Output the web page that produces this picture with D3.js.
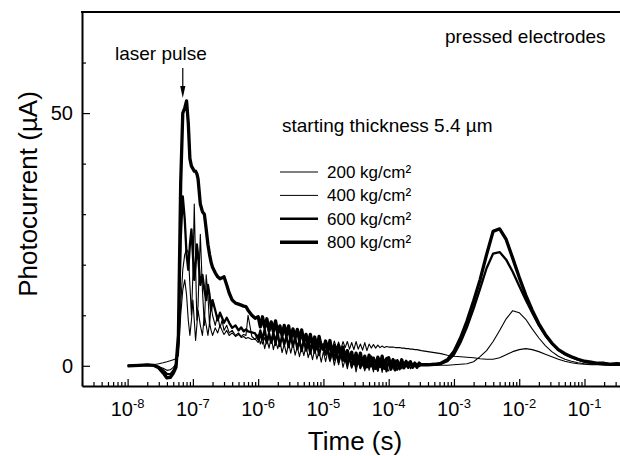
<!DOCTYPE html>
<html>
<head>
<meta charset="utf-8">
<script src="https://cdn.jsdelivr.net/npm/d3@7"></script>
<style>
  body { margin: 0; background: #fff; }
  svg text { font-family: "Liberation Sans", Arial, sans-serif; fill: #000; }
</style>
</head>
<body>
<svg id="chart" width="620" height="456"></svg>
<script>

// time grid in seconds, shared by the four traces (denser where the traces are noisy)
var time_s = [
  1e-8, 1.5e-8, 2e-8, 2.5e-8, 3e-8, 3.5e-8, 4e-8, 4.5e-8, 5e-8, 5.5e-8,
  6e-8, 6.5e-8, 7e-8, 7.5e-8, 8e-8, 8.5e-8, 9e-8, 9.5e-8,
  1e-7, 1.05e-7, 1.1e-7, 1.15e-7, 1.2e-7, 1.3e-7, 1.4e-7, 1.5e-7, 1.6e-7, 1.7e-7,
  1.8e-7, 1.9e-7, 2e-7, 2.2e-7, 2.4e-7, 2.6e-7, 2.8e-7, 3e-7, 3.3e-7, 3.6e-7,
  4e-7, 4.5e-7, 5e-7, 5.5e-7, 6e-7, 6.5e-7, 7e-7, 8e-7, 9e-7,
  1e-6, 1.08e-6, 1.166e-6, 1.259e-6, 1.359e-6, 1.468e-6, 1.585e-6, 1.711e-6, 1.848e-6, 1.995e-6,
  2.154e-6, 2.326e-6, 2.512e-6, 2.712e-6, 2.929e-6, 3.162e-6, 3.415e-6, 3.687e-6, 3.981e-6, 4.299e-6,
  4.642e-6, 5.012e-6, 5.412e-6, 5.843e-6, 6.31e-6, 6.813e-6, 7.356e-6, 7.943e-6, 8.577e-6, 9.261e-6,
  1e-5, 1.08e-5, 1.166e-5, 1.259e-5, 1.359e-5, 1.468e-5, 1.585e-5, 1.711e-5, 1.848e-5, 1.995e-5,
  2.154e-5, 2.326e-5, 2.512e-5, 2.712e-5, 2.929e-5, 3.162e-5, 3.415e-5, 3.687e-5, 3.981e-5, 4.299e-5,
  4.642e-5, 5.012e-5, 5.412e-5, 5.843e-5, 6.31e-5, 6.813e-5, 7.356e-5, 7.943e-5, 8.577e-5, 9.261e-5,
  1e-4, 1.08e-4, 1.166e-4, 1.259e-4, 1.359e-4, 1.468e-4, 1.585e-4, 1.711e-4, 1.848e-4, 1.995e-4,
  2.154e-4, 2.326e-4, 2.512e-4, 2.712e-4, 2.929e-4,
  3.162e-4, 3.981e-4, 5.012e-4, 6.31e-4, 7.943e-4,
  1e-3, 1.26e-3, 1.58e-3, 2e-3, 2.51e-3, 3.16e-3, 3.98e-3, 5.01e-3, 6.31e-3, 7.94e-3,
  1e-2, 1.26e-2, 1.58e-2, 2e-2, 2.51e-2, 3.16e-2, 3.98e-2, 5.01e-2, 6.31e-2, 7.94e-2,
  0.1, 0.126, 0.158, 0.2, 0.251, 0.316, 0.398
]

// photocurrent (uA) per pressing pressure
var current_200 = [
  0, 0.1, 0.1, 0.2, 0.4, 0.6, 0.8, 1.0, 1.2, 1.4,
  2, 10, 15, 17, 14, 9, 6, 9,
  13, 9, 5, 8, 11, 8, 6, 10, 8, 6,
  8.5, 7, 6, 7.5, 6.5, 8, 7, 6.2, 7, 6,
  6.5, 5.8, 6.2, 5.6, 5.8, 5.4, 5.6, 5.2, 5.3,
  4.6, 5.9, 4.3, 5.6, 4.3, 5.8, 4.4, 5.6, 4.0, 5.7,
  4.5, 5.6, 4.1, 5.4, 3.9, 5.6, 4.1, 5.0, 3.8, 5.3,
  3.6, 5.1, 4.0, 5.2, 3.7, 5.2, 3.7, 5.2, 3.5, 4.7,
  3.6, 4.9, 3.4, 4.7, 3.3, 4.9, 3.5, 4.7, 3.2, 4.8,
  3.6, 4.8, 3.3, 4.6, 3.2, 4.8, 3.3, 4.3, 3.1, 4.6,
  3.0, 4.3, 3.5, 4.2, 3.5, 4.1, 3.6, 3.9, 3.6, 3.8,
  3.7, 3.7, 3.7, 3.6, 3.6, 3.6, 3.5, 3.5, 3.4, 3.4,
  3.3, 3.3, 3.2, 3.2, 3.1,
  3.0, 2.8, 2.6, 2.4, 2.1,
  1.9, 1.8, 1.7, 1.6, 1.4, 1.3, 1.3, 1.6, 2.2, 2.8,
  3.2, 3.4, 3.2, 2.8, 2.3, 1.8, 1.3, 0.9, 0.6, 0.4,
  0.3, 0.2, 0.2, 0.1, 0.1, 0.1, 0.1
]
var current_400 = [
  0, 0.1, 0.1, 0.0, -0.2, -0.5, -0.9, -0.8, -0.3, 0.4,
  3, 12, 19, 22, 23, 22.5, 16, 10,
  18, 32, 20, 9, 12, 26, 15, 8, 18, 14,
  8, 12, 10, 8, 10, 7.5, 9, 7, 8, 6.5,
  7, 6, 6.5, 5.8, 6.2, 6.0, 10, 5.8, 5.2,
  6.2, 4.3, 5.7, 3.4, 5.3, 3.5, 5.7, 3.2, 5.0, 3.4,
  5.0, 2.6, 4.3, 2.3, 4.5, 2.5, 4.5, 2.1, 3.8, 1.8,
  3.8, 2.0, 4.0, 1.6, 3.1, 1.2, 3.4, 1.3, 2.9, 0.7,
  2.8, 0.8, 2.9, 0.8, 2.5, 0.1, 2.0, 0.2, 2.2, -0.3,
  1.3, -0.6, 1.5, -0.5, 1.4, -1.2, 0.9, -0.6, 1.1, -1.0,
  1.3, -0.9, 0.7, -1.2, 1.0, -1.1, 0.8, -1.3, 1.2, -0.7,
  -1.0, 0.9, -0.7, 1.2, -0.9, 0.6, -0.6, 0.8, -0.3, 0.8,
  -0.6, 0.5, -0.2, 0.5, -0.2,
  0.1, 0.1, 0.1, 0.1, 0.1,
  0.2, 0.3, 0.4, 0.8, 1.8, 3.0, 4.8, 7.0, 9.3, 10.9,
  10.5, 9.2, 7.3, 5.5, 4.0, 2.8, 1.9, 1.3, 0.9, 0.6,
  0.4, 0.3, 0.3, 0.2, 0.2, 0.2, 0.2
]
var current_600 = [
  0, 0.1, 0.2, 0.1, -0.2, -0.9, -1.6, -1.7, -1.0, 0.0,
  5, 25, 33.5, 29, 22, 19, 24, 27,
  22, 17, 20, 24, 22, 16, 18, 15, 13, 16,
  14, 11, 13, 11, 9, 10.5, 9.5, 8.5, 9.5, 8.5,
  7.5, 8.0, 7.0, 7.6, 6.8, 7.2, 6.8, 6.6, 6.4,
  5.2, 7.0, 5.2, 7.3, 4.7, 6.5, 4.6, 6.6, 4.8, 6.5,
  3.9, 6.0, 4.2, 5.9, 3.7, 5.9, 3.8, 5.7, 3.3, 5.0,
  2.9, 5.1, 3.0, 4.4, 2.4, 4.6, 2.6, 4.5, 2.1, 4.0,
  4.2, 2.2, 3.6, 1.2, 3.1, 1.2, 3.4, 0.8, 2.6, 1.0,
  2.6, 0.2, 1.8, -0.2, 1.9, -0.2, 1.9, -0.4, 1.3, -0.6,
  1.4, -0.3, 1.8, -0.6, 1.0, -0.9, 1.4, -0.6, 1.0, -1.1,
  1.1, -0.8, 1.3, -0.4, 1.1, -0.7, 0.8, -0.4, 1.0, -0.4,
  0.5, -0.3, 0.6, -0.1, 0.6,
  0.2, 0.2, 0.2, 0.4, 0.9,
  2.2, 4.6, 7.6, 11.3, 15.2, 19.3, 22.2, 22.5, 21, 18.6,
  15.8, 13, 10.5, 8.0, 6.0, 4.4, 3.1, 2.3, 1.7, 1.2,
  0.8, 0.6, 0.5, 0.4, 0.3, 0.3, 0.3
]
var current_800 = [
  0, 0.1, 0.2, 0.1, -0.4, -1.4, -2.4, -2.3, -1.5, -0.3,
  6, 36, 50, 51, 52.4, 48, 41, 39.5,
  39, 38.5, 38.5, 38, 37, 32, 30.5, 30, 27, 24,
  22, 20.5, 19.5, 18.4, 17.6, 17.2, 17.4, 17.6, 16, 14.4,
  13, 12.4, 12.2, 12, 11.8, 11.7, 11, 10, 9.4,
  9.7, 7.7, 9.7, 7.6, 9.3, 6.9, 8.7, 6.8, 8.9, 6.4,
  7.9, 6.0, 8.0, 6.0, 7.9, 5.2, 7.3, 5.6, 7.2, 5.0,
  7.1, 4.8, 6.2, 4.2, 6.2, 4.0, 5.7, 3.4, 5.8, 3.8,
  3.2, 4.9, 3.0, 5.0, 2.3, 4.0, 2.1, 4.0, 2.1, 3.7,
  1.0, 3.0, 1.1, 2.7, 0.4, 2.5, 0.5, 2.5, 0.2, 1.9,
  -0.2, 2.1, 0.0, 1.5, -0.5, 1.7, -0.1, 1.9, -0.5, 1.4,
  1.6, -0.2, 1.2, -0.8, 0.9, -0.4, 1.2, -0.4, 0.8, -0.1,
  0.8, -0.3, 0.5, -0.3, 0.5,
  0.2, 0.2, 0.3, 0.5, 1.2,
  2.8, 5.5, 8.8, 12.8, 17, 22, 26.6, 27.1, 25, 21.3,
  17.5, 14, 11, 8.3, 6.2, 4.5, 3.2, 2.4, 1.8, 1.3,
  0.9, 0.7, 0.5, 0.5, 0.3, 0.4, 0.3
]

var series_labels = ["200 kg/cm\u00B2", "400 kg/cm\u00B2", "600 kg/cm\u00B2", "800 kg/cm\u00B2"]
var series_values = [current_200, current_400, current_600, current_800]

var x_tick_labels = [1e-8, 1e-7, 1e-6, 1e-5, 1e-4, 1e-3, 1e-2, 1e-1]
var y_tick_values = [0, 10, 20, 30, 40, 50, 60]
var y_tick_labels = [0, 50]

series_values.forEach(function(v, i){
  if (v.length != time_s.length) throw new Error(series_labels[i] + " has " + v.length + " values, grid has " + time_s.length)
})

var line_widths = [1.1, 1.1, 2.3, 3.3]
var legend_widths = [1.2, 1.0, 2.6, 3.6]

var plot_left = 82, plot_right = 620, plot_top = 12, plot_bottom = 386

var svg = d3.select("#chart")

var x = d3.scaleLog().domain([2e-9, 0.35]).range([plot_left, plot_right])
var y = d3.scaleLinear().domain([-4, 70]).range([plot_bottom, plot_top])

function is_decade(d){
  var e = Math.log10(d)
  return Math.abs(e - Math.round(e)) < 1e-6
}

svg.append("clipPath").attr("id", "plot-clip")
  .append("rect")
    .attr("x", plot_left).attr("y", plot_top)
    .attr("width", plot_right - plot_left).attr("height", plot_bottom - plot_top)

// traces
var line = d3.line()
  .x(function(d){ return x(d[0]) })
  .y(function(d){ return y(d[1]) })

var traces = svg.append("g").attr("clip-path", "url(#plot-clip)")
series_values.forEach(function(values, i){
  traces.append("path")
    .datum(time_s.map(function(t, j){ return [t, values[j]] }))
    .attr("fill", "none")
    .attr("stroke", "#000")
    .attr("stroke-width", line_widths[i])
    .attr("stroke-linejoin", "round")
    .attr("d", line)
})

// x axis, ticks pointing inward
var gx = svg.append("g")
  .attr("transform", "translate(0," + plot_bottom + ")")
  .call(d3.axisBottom(x).tickSizeInner(-4).tickSizeOuter(0).tickFormat(""))
gx.select(".domain").attr("stroke", "#000").attr("stroke-width", 2)
gx.selectAll(".tick line")
  .attr("stroke", "#000")
  .attr("stroke-width", 1.2)
  .attr("y2", function(d){ return is_decade(d) ? -7 : -4 })

var xl = svg.append("g").selectAll("text")
  .data(x_tick_labels)
  .join("text")
    .attr("x", function(d){ return x(d) })
    .attr("y", 416)
    .attr("text-anchor", "middle")
    .attr("font-size", 20)
xl.append("tspan").text("10")
xl.append("tspan")
  .attr("font-size", 13)
  .attr("dy", -8)
  .text(function(d){ return "-" + Math.round(-Math.log10(d)) })

// y axis
var gy = svg.append("g")
  .attr("transform", "translate(" + plot_left + ",0)")
  .call(d3.axisLeft(y).tickValues(y_tick_values).tickSizeInner(-5).tickSizeOuter(0).tickPadding(9)
    .tickFormat(function(d){ return y_tick_labels.indexOf(d) >= 0 ? d : "" }))
gy.select(".domain").attr("stroke", "#000").attr("stroke-width", 2)
gy.selectAll(".tick line")
  .attr("stroke", "#000")
  .attr("stroke-width", 1.2)
  .attr("x2", function(d){ return y_tick_labels.indexOf(d) >= 0 ? 8 : 4 })
gy.selectAll(".tick text")
  .attr("font-size", 20)
  .attr("font-family", "Liberation Sans, Arial, sans-serif")
  .attr("fill", "#000")

// top frame
svg.append("line")
  .attr("x1", plot_left - 1).attr("x2", plot_right)
  .attr("y1", plot_top).attr("y2", plot_top)
  .attr("stroke", "#000").attr("stroke-width", 2)

// axis titles
svg.append("text")
  .attr("x", 355).attr("y", 450)
  .attr("text-anchor", "middle")
  .attr("font-size", 26)
  .text("Time (s)")

svg.append("text")
  .attr("transform", "translate(37,194) rotate(-90)")
  .attr("text-anchor", "middle")
  .attr("font-size", 26)
  .text("Photocurrent (\u00B5A)")

// annotations
svg.append("text").attr("x", 445).attr("y", 43).attr("font-size", 19).text("pressed electrodes")
svg.append("text").attr("x", 282).attr("y", 132).attr("font-size", 19).text("starting thickness 5.4 \u00B5m")
svg.append("text").attr("x", 115).attr("y", 60).attr("font-size", 19).text("laser pulse")

var ax = x(7e-8)
svg.append("line")
  .attr("x1", ax).attr("x2", ax)
  .attr("y1", 68).attr("y2", 90)
  .attr("stroke", "#000").attr("stroke-width", 1.2)
svg.append("polygon")
  .attr("fill", "#000")
  .attr("points", [[ax - 2.6, 86], [ax + 2.6, 86], [ax, 98]].join(" "))

// legend
var legend = svg.append("g").selectAll("g")
  .data(series_labels)
  .join("g")
    .attr("transform", function(d, i){ return "translate(280," + (172 + i * 23.4) + ")" })
legend.append("line")
  .attr("x1", 0).attr("x2", 38)
  .attr("stroke", "#000")
  .attr("stroke-width", function(d, i){ return legend_widths[i] })
legend.append("text")
  .attr("x", 47).attr("y", 6)
  .attr("font-size", 17)
  .text(function(d){ return d })

</script>
</body>
</html>
